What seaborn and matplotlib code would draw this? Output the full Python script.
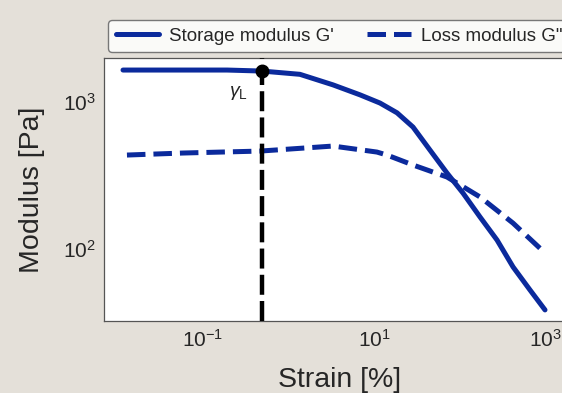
import numpy as np
import pandas as pd
import matplotlib
matplotlib.use("Agg")
import matplotlib.pyplot as plt
import matplotlib.ticker as mticker
import seaborn as sns

# Data
strain_storage = [0.0116, 0.191, 0.49, 1.36, 3.31, 6.86, 11.75, 18.6, 28.6, 45.2, 71.4,
                  110, 174, 275, 423, 668, 1000]
storage_modulus = [1652, 1652, 1626, 1545, 1310, 1120, 985, 845, 676, 471, 329,
                   240, 165, 115, 75.5, 52.6, 38.5]

strain_loss = [0.0129, 0.0583, 0.465, 3.31, 10.8, 14.2, 28.6, 71.4, 174, 423, 1000]
loss_modulus = [436, 450, 464, 502, 457, 436, 373, 309, 226, 150, 94]

gamma_L = 0.49
gamma_L_modulus = 1626

labels = ["Storage modulus G'", 'Loss modulus G"']

df = pd.concat([
    pd.DataFrame({"Strain": strain_storage, "Modulus": storage_modulus, "serie": labels[0]}),
    pd.DataFrame({"Strain": strain_loss, "Modulus": loss_modulus, "serie": labels[1]}),
])

sns.set_style("white")
plt.rcParams['font.family'] = ['Liberation Sans', 'DejaVu Sans']
plt.rcParams['mathtext.fontset'] = 'custom'
plt.rcParams['mathtext.rm'] = 'Liberation Sans'
plt.rcParams['mathtext.it'] = 'Liberation Sans:italic'

bg = "#e4e0d9"
azul = "#0b2a9c"

fig = plt.figure(figsize=(5.62, 3.93), dpi=100, facecolor=bg)
ax = fig.add_axes([104 / 562, 72 / 393, (575 - 104) / 562, (321 - 58) / 393])
ax.set_facecolor("white")

sns.lineplot(data=df, x="Strain", y="Modulus", hue="serie", style="serie",
             palette=[azul, azul], dashes=[(None, None), (3.7, 1.6)],
             linewidth=3.6, ax=ax, legend=False, sort=False)

# limite linear
ax.axvline(gamma_L, color="black", linestyle=(0, (4.5, 1.4)), linewidth=3.2, zorder=3)
ax.plot([gamma_L], [gamma_L_modulus], marker="o", color="black", markersize=9, zorder=4)
ax.text(0.26, 1150, r"$\gamma_{\mathrm{L}}$", fontsize=14, ha="center", va="center")

ax.set_xscale("log")
ax.set_yscale("log")
ax.set_xlim(10 ** (-1 - 99 / 85.5), 10 ** (3 + 30 / 85.5))
ax.set_ylim(10 ** 1.51, 10 ** 3.3)

ax.xaxis.set_major_locator(mticker.FixedLocator([0.1, 10, 1000]))
ax.xaxis.set_minor_locator(mticker.NullLocator())
ax.yaxis.set_major_locator(mticker.LogLocator(base=10))
ax.yaxis.set_minor_locator(mticker.LogLocator(base=10, subs=np.arange(2, 10)))
ax.yaxis.set_minor_formatter(mticker.NullFormatter())

ax.tick_params(axis="both", which="major", direction="out", length=3, width=0.8,
               color="#555555", labelsize=15, pad=3)
ax.tick_params(axis="y", which="minor", direction="out", length=2, width=0.8, color="#777777")

for s in ax.spines.values():
    s.set_color("#555555")
    s.set_linewidth(0.9)

ax.set_xlabel("Strain [%]", fontsize=20.5, labelpad=11)
ax.set_ylabel("Modulus [Pa]", fontsize=20.5, labelpad=13)

handles = [
    plt.Line2D([], [], color=azul, linewidth=3.6),
    plt.Line2D([], [], color=azul, linewidth=3.6, linestyle=(0, (3.7, 1.6))),
]
leg = fig.legend(handles, labels, loc="upper left", bbox_to_anchor=(108 / 562, 1 - 20 / 393),
                 borderaxespad=0, ncol=2, fontsize=13.5, frameon=True, fancybox=True,
                 handlelength=2.3, columnspacing=1.8, borderpad=0.4, handletextpad=0.55)
leg.get_frame().set_facecolor("#fafaf8")
leg.get_frame().set_edgecolor("#777777")
leg.get_frame().set_alpha(1)

fig.savefig("out.png", dpi=100, facecolor=bg)
